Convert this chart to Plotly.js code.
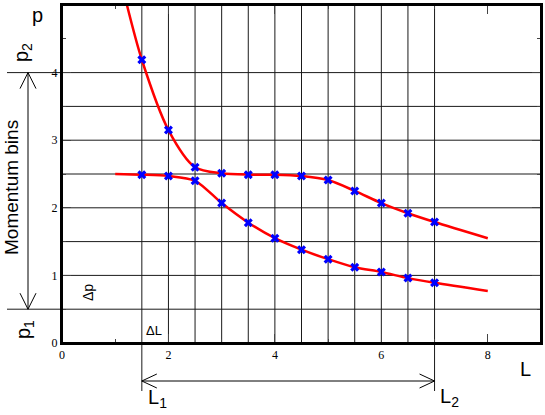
<!DOCTYPE html>
<html>
<head>
<meta charset="utf-8">
<script src="https://cdn.plot.ly/plotly-3.0.1.min.js"></script>
<style>body { margin: 0; background: #fff; }</style>
</head>
<body>
<div id="chart" style="width:545px;height:415px"></div>
<script>
// marked (L, p) points
var markL = [1.5, 2, 2.5, 3, 3.5, 4, 4.5, 5, 5.5, 6, 6.5, 7];
var lowerP = [2.49, 2.47, 2.40, 2.07, 1.78, 1.55, 1.38, 1.24, 1.12, 1.05, 0.96, 0.89];
var upperP = [4.19, 3.15, 2.60, 2.51, 2.49, 2.49, 2.47, 2.41, 2.25, 2.07, 1.92, 1.79];

// the red curves run a bit past the markers
var lowerCurveL = [1.0, 1.5, 2, 2.5, 3, 3.5, 4, 4.5, 5, 5.5, 6, 6.5, 7, 8];
var lowerCurveP = [2.50, 2.49, 2.47, 2.40, 2.07, 1.78, 1.55, 1.38, 1.24, 1.12, 1.05, 0.96, 0.89, 0.77];
var upperCurveL = [1.22, 1.5, 2, 2.5, 3, 3.5, 4, 4.5, 5, 5.5, 6, 6.5, 7, 8];
var upperCurveP = [5.0, 4.19, 3.15, 2.60, 2.51, 2.49, 2.49, 2.47, 2.41, 2.25, 2.07, 1.92, 1.79, 1.55];

// bin edges
var binL = [1.5, 2, 2.5, 3, 3.5, 4, 4.5, 5, 5.5, 6, 6.5, 7];
var binP = [0.5, 1, 1.5, 2, 2.5, 3, 3.5, 4];

var xTicks = [0, 2, 4, 6, 8];
var yTicks = [0, 1, 2, 3, 4, 5];

// plot box in pixels: left 62, right 541, top 5, bottom 343
function pxX(px) { return (px - 62) / 479; }
function pxY(py) { return (343 - py) / 338; }

var sans = 'Liberation Sans, Arial, sans-serif';
var serif = 'Liberation Serif, serif';

var data = [{
    x: lowerCurveL, y: lowerCurveP,
    type: 'scatter', mode: 'lines',
    line: { color: '#ff0000', width: 2.5, shape: 'spline', smoothing: 0.8 },
    hoverinfo: 'skip'
}, {
    x: upperCurveL, y: upperCurveP,
    type: 'scatter', mode: 'lines',
    line: { color: '#ff0000', width: 2.5, shape: 'spline', smoothing: 0.8 },
    hoverinfo: 'skip'
}, {
    x: markL, y: lowerP,
    type: 'scatter', mode: 'markers',
    marker: { symbol: 'x', size: 8, color: '#0000ff' }
}, {
    x: markL, y: upperP,
    type: 'scatter', mode: 'markers',
    marker: { symbol: 'x', size: 8, color: '#0000ff' }
}];

var shapes = [];
var lineStyle = { color: '#1a1a1a', width: 1 };

// vertical bin lines, first and last run down to the L arrow
binL.forEach(function (L, i) {
    var ends = (i === 0 || i === binL.length - 1);
    shapes.push({
        type: 'line', layer: 'below',
        xref: 'x', yref: 'paper',
        x0: L, x1: L, y0: ends ? pxY(391) : 0, y1: 1,
        line: lineStyle
    });
});

// horizontal bin lines, first and last run left to the p arrow
binP.forEach(function (P, i) {
    var ends = (i === 0 || i === binP.length - 1);
    shapes.push({
        type: 'line', layer: 'below',
        xref: 'paper', yref: 'y',
        x0: ends ? pxX(7) : 0, x1: 1, y0: P, y1: P,
        line: lineStyle
    });
});

// heavy frame round the plot
shapes.push({ type: 'rect', xref: 'paper', yref: 'paper', x0: 0, x1: 1, y0: 0, y1: 1,
    line: { color: '#000', width: 2 } });

// vertical double arrow p1 .. p2
var pTop = binP[binP.length - 1], pBot = binP[0];
var ax = pxX(28), ahw = 8 / 479, ahl = 16 / 67.6;
shapes.push({ type: 'line', xref: 'paper', yref: 'y', x0: ax, x1: ax, y0: pBot, y1: pTop, line: { color: '#000', width: 1 } });
shapes.push({ type: 'path', xref: 'paper', yref: 'y',
    path: 'M' + (ax - ahw) + ',' + (pTop - ahl) + ' L' + ax + ',' + pTop + ' L' + (ax + ahw) + ',' + (pTop - ahl),
    line: { color: '#000', width: 1 } });
shapes.push({ type: 'path', xref: 'paper', yref: 'y',
    path: 'M' + (ax - ahw) + ',' + (pBot + ahl) + ' L' + ax + ',' + pBot + ' L' + (ax + ahw) + ',' + (pBot + ahl),
    line: { color: '#000', width: 1 } });

// horizontal double arrow L1 .. L2
var lLeft = binL[0], lRight = binL[binL.length - 1];
var ay = pxY(381), bhl = 15 / 53.25, bhw = 7 / 338;
shapes.push({ type: 'line', xref: 'x', yref: 'paper', x0: lLeft, x1: lRight, y0: ay, y1: ay, line: { color: '#000', width: 1 } });
shapes.push({ type: 'path', xref: 'x', yref: 'paper',
    path: 'M' + (lLeft + bhl) + ',' + (ay + bhw) + ' L' + lLeft + ',' + ay + ' L' + (lLeft + bhl) + ',' + (ay - bhw),
    line: { color: '#000', width: 1 } });
shapes.push({ type: 'path', xref: 'x', yref: 'paper',
    path: 'M' + (lRight - bhl) + ',' + (ay + bhw) + ' L' + lRight + ',' + ay + ' L' + (lRight - bhl) + ',' + (ay - bhw),
    line: { color: '#000', width: 1 } });

function label(text, px, py, size, angle) {
    return {
        text: text, xref: 'paper', yref: 'paper',
        x: pxX(px), y: pxY(py), xanchor: 'center', yanchor: 'middle',
        showarrow: false, textangle: angle || 0,
        font: { family: sans, size: size, color: '#000' }
    };
}

var annotations = [
    label('p', 37, 15, 20),
    label('p<sub>2</sub>', 23, 53, 20, -90),
    label('Momentum bins', 11, 188, 19, -90),
    label('p<sub>1</sub>', 24, 330, 20, -90),
    label('\u0394p', 88, 293, 14, -90),
    label('\u0394L', 154, 330, 13),
    label('L', 525, 369, 20),
    label('L<sub>1</sub>', 157, 398, 20),
    label('L<sub>2</sub>', 449, 397, 20)
];

var axisCommon = {
    showgrid: false, zeroline: false,
    showline: true, linecolor: '#000', linewidth: 2, mirror: 'ticks',
    ticks: 'inside', ticklen: 9, tickwidth: 1, tickcolor: '#444',
    tickfont: { family: serif, size: 12, color: '#000' },
    fixedrange: true
};

var layout = {
    width: 545, height: 415,
    margin: { l: 62, r: 4, t: 5, b: 72 },
    paper_bgcolor: '#fff', plot_bgcolor: '#fff',
    showlegend: false,
    xaxis: Object.assign({}, axisCommon, {
        range: [0, 9], tickmode: 'array', tickvals: xTicks,
        minor: { dtick: 1, ticks: 'inside', ticklen: 4, tickcolor: '#444', showgrid: false }
    }),
    yaxis: Object.assign({}, axisCommon, {
        range: [0, 5], tickmode: 'array', tickvals: yTicks,
        minor: { dtick: 0.5, ticks: 'inside', ticklen: 4, tickcolor: '#444', showgrid: false }
    }),
    shapes: shapes,
    annotations: annotations
};

Plotly.newPlot('chart', data, layout, { staticPlot: true, displayModeBar: false });
</script>
</body>
</html>
